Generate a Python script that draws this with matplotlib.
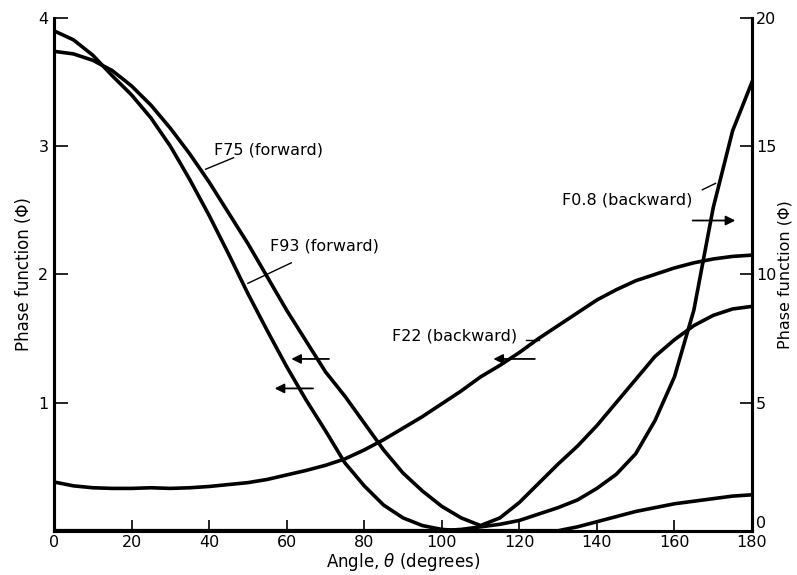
import matplotlib

matplotlib.use("Agg")
import matplotlib.pyplot as plt

# angle grid, degrees
ANGLE = [0, 5, 10, 15, 20, 25, 30, 35, 40, 45, 50, 55, 60, 65, 70, 75, 80, 85,
         90, 95, 100, 105, 110, 115, 120, 125, 130, 135, 140, 145, 150, 155,
         160, 165, 170, 175, 180]

# left axis (forward + F22)
F75 = [3.74, 3.72, 3.67, 3.59, 3.47, 3.32, 3.14, 2.94, 2.72, 2.48, 2.24, 1.98,
       1.72, 1.48, 1.24, 1.05, 0.84, 0.63, 0.45, 0.31, 0.19, 0.10, 0.04, 0.10,
       0.22, 0.37, 0.52, 0.66, 0.82, 1.00, 1.18, 1.36, 1.49, 1.60, 1.68, 1.73,
       1.75]
F93 = [3.90, 3.83, 3.71, 3.55, 3.40, 3.22, 3.00, 2.74, 2.46, 2.16, 1.85, 1.56,
       1.28, 1.02, 0.78, 0.53, 0.35, 0.20, 0.10, 0.04, 0.01, 0.0, 0.0, 0.0,
       0.0, 0.0, 0.0, 0.03, 0.07, 0.11, 0.15, 0.18, 0.21, 0.23, 0.25, 0.27,
       0.28]
F22 = [0.38, 0.35, 0.335, 0.33, 0.33, 0.335, 0.33, 0.335, 0.345, 0.36, 0.375,
       0.40, 0.435, 0.47, 0.51, 0.56, 0.63, 0.71, 0.80, 0.89, 0.99, 1.09, 1.20,
       1.29, 1.39, 1.50, 1.60, 1.70, 1.80, 1.88, 1.95, 2.00, 2.05, 2.09, 2.12,
       2.14, 2.15]
# right axis
F08 = [0.0] * 21 + [0.05, 0.15, 0.25, 0.4, 0.65, 0.9, 1.2, 1.65, 2.2, 3.0,
                    4.3, 6.0, 8.6, 12.6, 15.6, 17.5]

X_TICKS = [0, 20, 40, 60, 80, 100, 120, 140, 160, 180]
LEFT_TICKS = [1, 2, 3, 4]
RIGHT_TICKS = [0, 5, 10, 15, 20]

LW = 2.6
FS = 11.5

fig = plt.figure(figsize=(7.97, 5.75), dpi=100)
ax = fig.add_axes([54 / 797, 44.3 / 575, 698 / 797, 512.7 / 575])
ax2 = ax.twinx()

ax.plot(ANGLE, F75, color="black", lw=LW)
ax.plot(ANGLE, F93, color="black", lw=LW)
ax.plot(ANGLE, F22, color="black", lw=LW)
ax2.plot(ANGLE, F08, color="black", lw=LW)

ax.set_xlim(0, 180)
ax.set_ylim(0, 4)
ax2.set_ylim(0, 20)

ax.set_xticks(X_TICKS)
ax.set_yticks(LEFT_TICKS)
ax2.set_yticks(RIGHT_TICKS)

for a in (ax, ax2):
    a.spines["top"].set_visible(False)
    for s in ("left", "right", "bottom"):
        a.spines[s].set_linewidth(2.2)
ax.tick_params(axis="y", direction="in", length=10, width=1.2, pad=4,
               labelsize=FS)
ax.tick_params(axis="x", direction="in", length=8, width=1.2, pad=3,
               labelsize=FS)
ax2.tick_params(axis="y", direction="in", length=9, width=1.2, pad=3,
                labelsize=FS)
# right "0" sits just above the x-axis line
ax2.get_yticklabels()[0].set_verticalalignment("bottom")

ax.set_xlabel(r"Angle, $\theta$ (degrees)", fontsize=12, labelpad=1)
ax.set_ylabel("Phase function (\u03a6)", fontsize=12, labelpad=4)
ax2.set_ylabel("Phase function (\u03a6)", fontsize=11.5, labelpad=1)

# curve labels with leader lines
ax.text(41.2, 2.97, "F75 (forward)", fontsize=FS, va="center")
ax.plot([39.1, 46.3], [2.82, 2.91], color="black", lw=1)
ax.text(55.6, 2.22, "F93 (forward)", fontsize=FS, va="center")
ax.plot([50.0, 61.2], [1.93, 2.09], color="black", lw=1)
ax.text(87.1, 1.52, "F22 (backward)", fontsize=FS, va="center")
ax.plot([121.8, 125.2], [1.49, 1.49], color="black", lw=1)
ax.text(131.0, 2.58, "F0.8 (backward)", fontsize=FS, va="center")
ax.plot([167.2, 170.6], [2.66, 2.71], color="black", lw=1)

# arrows pointing to the axis each curve belongs to
arrow = dict(arrowstyle="-|>", color="black", lw=1.3, mutation_scale=14,
             shrinkA=0, shrinkB=0)
ax.annotate("", xy=(61.2, 1.34), xytext=(70.9, 1.34), arrowprops=arrow)
ax.annotate("", xy=(56.9, 1.11), xytext=(66.8, 1.11), arrowprops=arrow)
ax.annotate("", xy=(113.3, 1.34), xytext=(124.0, 1.34), arrowprops=arrow)
ax.annotate("", xy=(175.7, 2.42), xytext=(164.7, 2.42), arrowprops=arrow)

fig.savefig("out.png", dpi=100)
